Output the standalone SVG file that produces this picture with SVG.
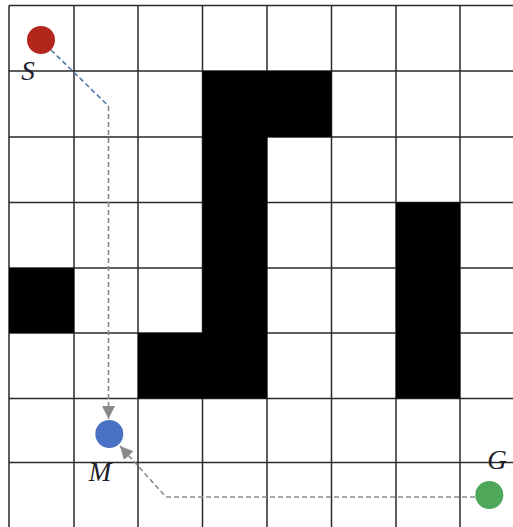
<svg xmlns="http://www.w3.org/2000/svg" width="513" height="527" viewBox="0 0 513 527">
<style>
.grid{stroke:#2a2a2a;stroke-width:1.5;fill:none}
.wall{fill:#000}
.lbl{font-family:"Liberation Serif","DejaVu Serif",serif;font-style:italic;font-size:27px;fill:#1c1c2a;text-anchor:middle}
.dash{fill:none;stroke-width:1.6;stroke-dasharray:5,3}
</style>
<defs>
<marker id="arr" markerWidth="13" markerHeight="13" refX="10" refY="5" orient="auto" markerUnits="userSpaceOnUse" viewBox="0 0 10 10">
<path d="M0,0 L10,5 L0,10 Z" fill="#8a8a8a"/>
</marker>
</defs>
<rect width="513" height="527" fill="#fff"/>
<g id="grid">
<path class="grid" d="M9,5.5V527 M74,5.5V527 M138,5.5V527 M202.5,5.5V527 M267,5.5V527 M331.5,5.5V527 M396,5.5V527 M460,5.5V527 M9,5.5H513 M9,71H513 M9,137H513 M9,202.5H513 M9,268H513 M9,333H513 M9,398.5H513 M9,462.5H513"/>
</g>
<g id="walls">
<polygon class="wall" points="202.5,71 331.5,71 331.5,137 267,137 267,398.5 138,398.5 138,333 202.5,333"/>
<rect class="wall" x="396" y="202.5" width="64" height="196"/>
<rect class="wall" x="9" y="268" width="65" height="65"/>
</g>
<g id="connectors">
<path class="dash" d="M51,50 L108.5,106" stroke="#5479a6"/>
<path class="dash" d="M108.5,106 V419" stroke="#8a8a8a" marker-end="url(#arr)"/>
<path class="dash" d="M475,497 H166 L120,446" stroke="#8a8a8a" marker-end="url(#arr)"/>
</g>
<g id="S">
<circle cx="41" cy="40" r="14" fill="#b3261c"/>
<text class="lbl" x="28" y="80">S</text>
</g>
<g id="M">
<circle cx="109.3" cy="434" r="14" fill="#4a72c4"/>
<text class="lbl" x="100" y="481">M</text>
</g>
<g id="G">
<circle cx="489.3" cy="495" r="14" fill="#4fa85a"/>
<text class="lbl" x="497" y="469">G</text>
</g>
</svg>
